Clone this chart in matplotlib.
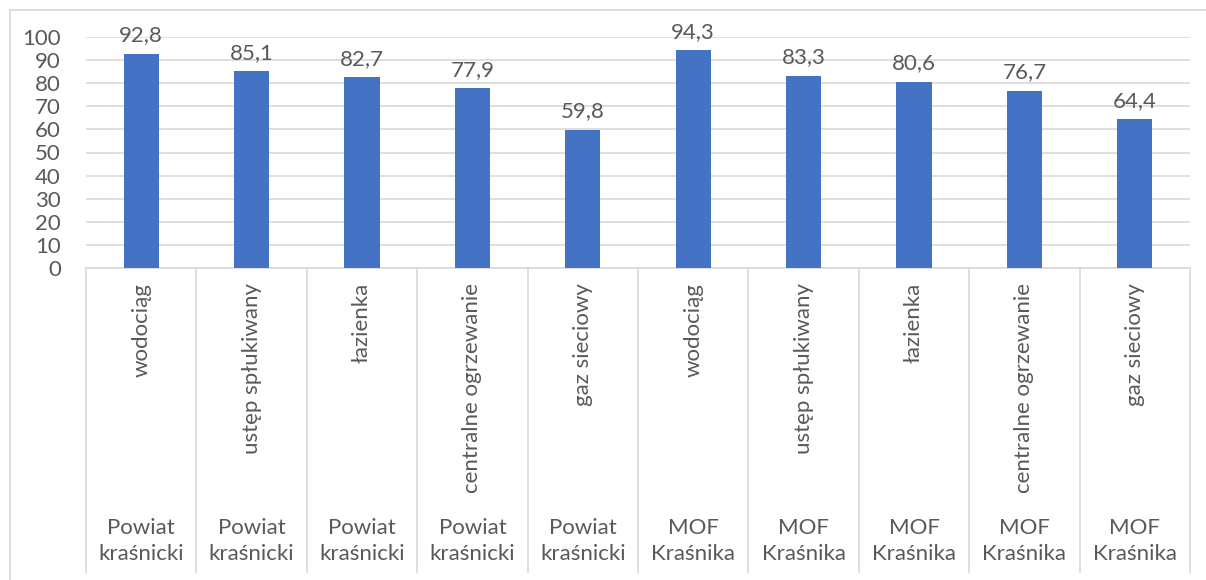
import numpy as np
import matplotlib
matplotlib.use('Agg')
import matplotlib.pyplot as plt
from matplotlib.patches import Rectangle
import matplotlib.transforms as mtransforms

plt.rcParams['font.family'] = ['Lato', 'DejaVu Sans']

categories = ["wodociąg", "ustęp spłukiwany", "łazienka", "centralne ogrzewanie", "gaz sieciowy",
              "wodociąg", "ustęp spłukiwany", "łazienka", "centralne ogrzewanie", "gaz sieciowy"]
groups = ["Powiat\nkraśnicki"] * 5 + ["MOF\nKraśnika"] * 5
values = [92.8, 85.1, 82.7, 77.9, 59.8, 94.3, 83.3, 80.6, 76.7, 64.4]

W, H = 1206, 580
fig = plt.figure(figsize=(W / 100, H / 100), dpi=100)
text_col = "#595959"
grid_col = "#D9D9D9"
fs = 16

# outer chart border
fig.patches.append(Rectangle((10 / W, -0.1), 1.2, 1 - 10 / H + 0.1, transform=fig.transFigure,
                             fill=False, edgecolor=grid_col, linewidth=1.2))

left, right, top, bottom = 86, 1190, 37, 268
ax = fig.add_axes([left / W, 1 - bottom / H, (right - left) / W, (bottom - top) / H])

x = np.arange(len(values))
ax.bar(x, values, width=0.32, color="#4472C4", zorder=3)
for xi, v in zip(x, values):
    ax.annotate(f"{v:.1f}".replace(".", ","), (xi, v), xytext=(0, 6),
                textcoords="offset points", ha="center", va="bottom",
                fontsize=fs, color=text_col)

ax.set_xlim(-0.5, len(values) - 0.5)
ax.set_ylim(0, 100)
ax.set_yticks(np.arange(0, 101, 10))
ax.yaxis.grid(True, color=grid_col, linewidth=1.2, zorder=0)
ax.tick_params(axis='y', length=0, labelsize=fs, labelcolor=text_col, pad=18)
ax.set_xticks([])
for s in ["top", "right", "left"]:
    ax.spines[s].set_visible(False)
ax.spines["bottom"].set_color(grid_col)
ax.spines["bottom"].set_linewidth(1.2)

# multi-level category axis
trans = mtransforms.blended_transform_factory(ax.transData, fig.transFigure)
y_top = 1 - bottom / H
y_end = 1 - 572 / H
for i in range(len(values) + 1):
    ax.plot([i - 0.5, i - 0.5], [y_top, y_end], transform=trans, color=grid_col,
            linewidth=1.2, clip_on=False)
for xi, cat, grp in zip(x, categories, groups):
    ax.text(xi, 1 - 283 / H, cat, transform=trans, rotation=90, ha="center", va="top",
            fontsize=fs, color=text_col)
    ax.text(xi, 1 - 541 / H, grp, transform=trans, ha="center", va="center",
            fontsize=fs, color=text_col, linespacing=1.35)

fig.savefig("out.png", dpi=100)
